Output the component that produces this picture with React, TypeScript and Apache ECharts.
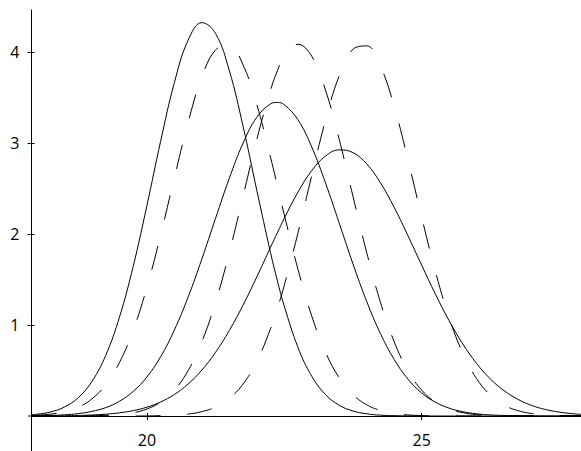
import React, { useEffect, useRef } from "react";
import * as echarts from "echarts";

// shared x positions
const xs = [17.9, 18, 18.25, 18.5, 18.75, 19, 19.25, 19.5, 19.75, 20, 20.25, 20.5, 20.75, 21, 21.25, 21.5, 21.75, 22, 22.25, 22.375, 22.5, 22.75, 23, 23.25, 23.5, 23.75, 24, 24.25, 24.5, 24.75, 25, 25.25, 25.5, 25.75, 26, 26.25, 26.5, 26.75, 27, 27.25, 27.5, 27.75, 27.9];

// solid curves
const solid1 = [0.013, 0.019, 0.045, 0.099, 0.201, 0.38, 0.666, 1.086, 1.645, 2.314, 3.023, 3.668, 4.134, 4.328, 4.208, 3.8, 3.188, 2.484, 1.797, 1.487, 1.208, 0.754, 0.437, 0.236, 0.118, 0.055, 0.024, 0.009, 0.004, 0.001, 0, 0, 0, 0, 0, 0, 0, 0, 0, 0, 0, 0, 0];
const solid2 = [0.002, 0.003, 0.006, 0.013, 0.026, 0.051, 0.092, 0.162, 0.27, 0.429, 0.652, 0.946, 1.308, 1.727, 2.176, 2.616, 3.002, 3.287, 3.434, 3.45, 3.425, 3.259, 2.96, 2.565, 2.122, 1.674, 1.261, 0.907, 0.622, 0.407, 0.254, 0.152, 0.086, 0.047, 0.024, 0.012, 0.006, 0.003, 0.001, 0, 0, 0, 0];
const solid3 = [0.001, 0.001, 0.001, 0.003, 0.006, 0.011, 0.02, 0.035, 0.059, 0.097, 0.154, 0.237, 0.352, 0.505, 0.701, 0.941, 1.22, 1.53, 1.856, 2.017, 2.175, 2.464, 2.7, 2.86, 2.928, 2.898, 2.774, 2.566, 2.296, 1.985, 1.66, 1.342, 1.048, 0.792, 0.578, 0.408, 0.279, 0.184, 0.117, 0.072, 0.043, 0.025, 0.018];

// dashed curves
const dashed1 = [0.006, 0.009, 0.021, 0.046, 0.096, 0.188, 0.344, 0.588, 0.943, 1.416, 1.991, 2.621, 3.23, 3.728, 4.028, 4.076, 3.862, 3.427, 2.847, 2.532, 2.214, 1.613, 1.1, 0.703, 0.42, 0.235, 0.123, 0.061, 0.028, 0.012, 0.005, 0.002, 0.001, 0, 0, 0, 0, 0, 0, 0, 0, 0, 0];
const dashed2 = [0, 0, 0, 0, 0.001, 0.003, 0.007, 0.016, 0.036, 0.077, 0.153, 0.285, 0.499, 0.817, 1.252, 1.798, 2.417, 3.043, 3.586, 3.798, 3.958, 4.09, 3.958, 3.586, 3.043, 2.417, 1.798, 1.252, 0.817, 0.499, 0.285, 0.153, 0.077, 0.036, 0.016, 0.007, 0.003, 0.001, 0, 0, 0, 0, 0];
const dashed3 = [0, 0, 0, 0, 0, 0, 0, 0, 0, 0.001, 0.004, 0.009, 0.021, 0.048, 0.099, 0.193, 0.352, 0.6, 0.96, 1.184, 1.437, 2.016, 2.646, 3.253, 3.744, 4.035, 4.072, 3.849, 3.406, 2.822, 2.189, 1.591, 1.082, 0.689, 0.411, 0.23, 0.12, 0.059, 0.027, 0.012, 0.005, 0.002, 0.001];

const xTicks = [20, 25];
const yTicks = [1, 2, 3, 4];

const pairs = (ys: number[]) => xs.map((x, i) => [x, ys[i]]);

export default function App() {
  const ref = useRef<HTMLDivElement>(null);
  useEffect(() => {
    if (!ref.current) return;
    const chart = echarts.init(ref.current, null, { renderer: "svg" });
    const font = { fontFamily: "Open Sans", fontSize: 16, color: "#000" };
    const solidStyle = { color: "#000", width: 1, type: "solid" as const };
    const dashStyle = { color: "#000", width: 1, type: [25, 27] as any, dashOffset: 0 };
    const mk = (ys: number[], style: any) => ({
      type: "line",
      data: pairs(ys),
      showSymbol: false,
      smooth: 0.4,
      lineStyle: style,
      xAxisIndex: 0,
      yAxisIndex: 0,
      silent: true,
    });
    chart.setOption({
      animation: false,
      grid: { left: 31.5, right: 0, top: 10, bottom: 35, containLabel: false, outerBoundsMode: "none" },
      graphic: [
        {
          type: "line",
          shape: { x1: 31.5, y1: 416, x2: 31.5, y2: 451 },
          style: { stroke: "#000", lineWidth: 1 },
          silent: true,
        },
        {
          type: "line",
          shape: { x1: 28, y1: 416, x2: 32, y2: 416 },
          style: { stroke: "#000", lineWidth: 1 },
          silent: true,
        },
      ],
      xAxis: [
        {
          type: "value",
          min: 17.9,
          max: 27.9,
          position: "bottom",
          axisLine: { onZero: false, lineStyle: { color: "#000", width: 1 } },
          axisTick: { show: true, length: 4, inside: false, customValues: xTicks, lineStyle: { color: "#000" } },
          axisLabel: { customValues: xTicks, margin: 16, ...font },
          splitLine: { show: false },
        },
        {
          type: "value",
          min: 17.9,
          max: 27.9,
          position: "bottom",
          axisLine: { show: false, onZero: false },
          axisTick: { show: true, length: 3, inside: true, customValues: xTicks, lineStyle: { color: "#000" } },
          axisLabel: { show: false },
          splitLine: { show: false },
        },
      ],
      yAxis: [
        {
          type: "value",
          min: 0,
          max: 4.467,
          position: "left",
          axisLine: { show: true, onZero: false, lineStyle: { color: "#000", width: 1 } },
          axisTick: { show: true, length: 4, inside: false, customValues: yTicks, lineStyle: { color: "#000" } },
          axisLabel: { customValues: yTicks, margin: 12, ...font },
          splitLine: { show: false },
        },
        {
          type: "value",
          min: 0,
          max: 4.467,
          position: "left",
          axisLine: { show: false, onZero: false },
          axisTick: { show: true, length: 3, inside: true, customValues: yTicks, lineStyle: { color: "#000" } },
          axisLabel: { show: false },
          splitLine: { show: false },
        },
      ],
      series: [
        mk(solid1, solidStyle),
        mk(solid2, solidStyle),
        mk(solid3, solidStyle),
        mk(dashed1, dashStyle),
        mk(dashed2, dashStyle),
        mk(dashed3, dashStyle),
      ],
    });
    return () => chart.dispose();
  }, []);
  return (
    <div
      ref={ref}
      style={{ position: "fixed", left: 0, top: 0, width: 581, height: 451, background: "#fff" }}
    />
  );
}
